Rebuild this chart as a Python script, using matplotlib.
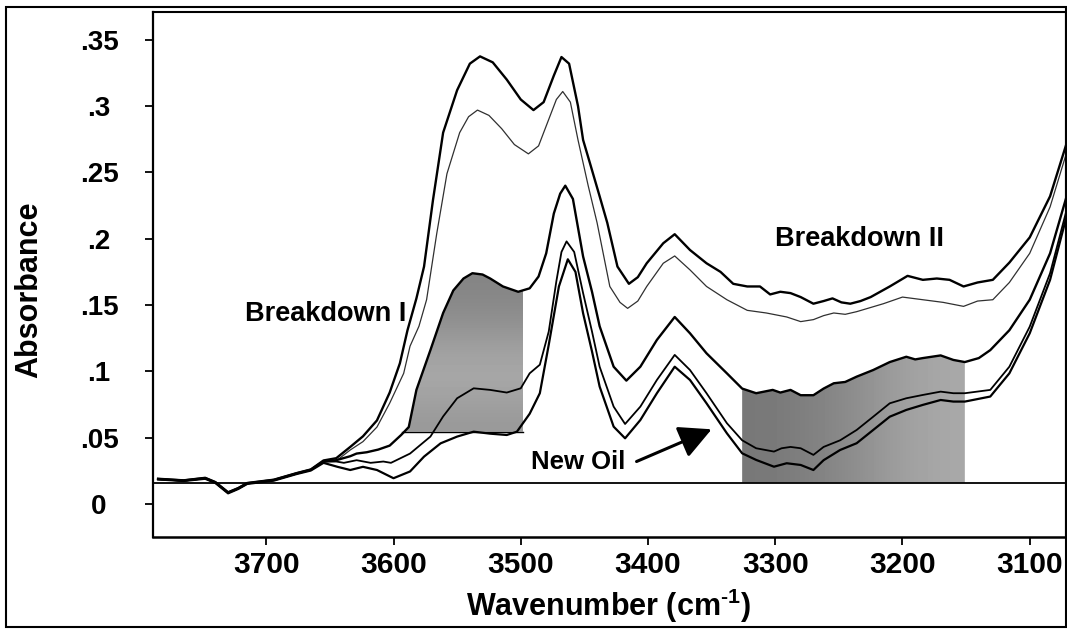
"""FTIR absorbance spectra of oil samples, 3789-3072 cm-1,
with the two breakdown bands shaded."""
import numpy as np
import matplotlib
matplotlib.use("Agg")
import matplotlib.pyplot as plt
from matplotlib.patches import Rectangle

## spectra, (wavenumber, absorbance) per curve
WN_A = [3785, 3765, 3748, 3740, 3730, 3722, 3715, 3694, 3676, 3665, 3655, 3645, 3634, 3624,
        3613, 3603, 3595, 3589, 3582, 3576, 3569, 3561, 3550, 3540, 3532, 3522, 3511, 3500,
        3490, 3482, 3474, 3468, 3462, 3455, 3451, 3445, 3438, 3432, 3424, 3415, 3408, 3401,
        3388, 3379, 3367, 3354, 3343, 3333, 3322, 3312, 3304, 3296, 3288, 3280, 3270, 3262,
        3255, 3248, 3241, 3233, 3225, 3210, 3196, 3184, 3173, 3163, 3152, 3141, 3129, 3116,
        3100, 3084, 3071]
ABS_A = [0.0190, 0.0178, 0.0197, 0.0165, 0.0088, 0.0120, 0.0158, 0.0183, 0.0233, 0.0260,
         0.0328, 0.0345, 0.043, 0.051, 0.063, 0.084, 0.106, 0.131, 0.155, 0.179, 0.229, 0.280,
         0.312, 0.332, 0.3375, 0.333, 0.320, 0.305, 0.297, 0.303, 0.323, 0.337, 0.332, 0.300,
         0.2745, 0.255, 0.232, 0.212, 0.179, 0.166, 0.171, 0.1815, 0.1966, 0.2034, 0.1915,
         0.1815, 0.175, 0.166, 0.164, 0.164, 0.158, 0.160, 0.159, 0.156, 0.151, 0.153, 0.155,
         0.152, 0.151, 0.153, 0.156, 0.164, 0.172, 0.169, 0.170, 0.169, 0.164, 0.167, 0.169,
         0.182, 0.201, 0.232, 0.272]

WN_B = [3785, 3765, 3748, 3740, 3730, 3722, 3715, 3694, 3676, 3665, 3655, 3645, 3634, 3624,
        3613, 3603, 3592, 3587, 3580, 3574, 3566, 3558, 3548, 3541, 3534, 3525, 3515, 3505,
        3494, 3486, 3478, 3472, 3467, 3461, 3455, 3447, 3440, 3430, 3422, 3416, 3408, 3401,
        3388, 3379, 3367, 3354, 3338, 3322, 3307, 3291, 3280, 3270, 3262, 3254, 3245, 3236,
        3215, 3200, 3184, 3168, 3152, 3141, 3129, 3116, 3100, 3084, 3071]
ABS_B = [0.0184, 0.0174, 0.0191, 0.0160, 0.0082, 0.0115, 0.0153, 0.0178, 0.0228, 0.0255,
         0.0320, 0.0325, 0.0407, 0.047, 0.058, 0.076, 0.0985, 0.119, 0.134, 0.154, 0.204,
         0.249, 0.280, 0.292, 0.297, 0.293, 0.283, 0.271, 0.264, 0.270, 0.290, 0.305, 0.311,
         0.303, 0.2745, 0.240, 0.212, 0.164, 0.152, 0.1475, 0.153, 0.164, 0.1815, 0.187,
         0.1765, 0.164, 0.154, 0.146, 0.144, 0.141, 0.1375, 0.139, 0.142, 0.144, 0.143, 0.145,
         0.151, 0.156, 0.154, 0.152, 0.149, 0.153, 0.154, 0.167, 0.189, 0.224, 0.265]

WN_C = [3785, 3765, 3748, 3740, 3730, 3722, 3715, 3694, 3676, 3665, 3655, 3645, 3634, 3629,
        3621, 3612, 3603, 3594, 3588, 3582, 3571, 3561, 3553, 3545, 3538, 3530, 3524, 3514,
        3502, 3493, 3486, 3480, 3474, 3469, 3465, 3459, 3451, 3444, 3438, 3427, 3417, 3406,
        3393, 3379, 3367, 3354, 3338, 3326, 3315, 3302, 3296, 3288, 3280, 3270, 3262, 3254,
        3245, 3236, 3223, 3210, 3197, 3190, 3184, 3170, 3160, 3151, 3140, 3131, 3116, 3100,
        3084, 3071]
ABS_C = [0.0188, 0.0177, 0.0195, 0.0163, 0.0086, 0.0118, 0.0156, 0.0181, 0.0231, 0.0258,
         0.0322, 0.0330, 0.036, 0.038, 0.039, 0.041, 0.044, 0.052, 0.058, 0.086, 0.116, 0.144,
         0.161, 0.170, 0.174, 0.173, 0.170, 0.164, 0.160, 0.1626, 0.1715, 0.189, 0.219, 0.234,
         0.240, 0.230, 0.1866, 0.160, 0.134, 0.1035, 0.093, 0.1035, 0.1237, 0.141, 0.1287,
         0.1136, 0.0985, 0.087, 0.0835, 0.086, 0.084, 0.086, 0.082, 0.082, 0.087, 0.091, 0.092,
         0.096, 0.101, 0.107, 0.111, 0.109, 0.110, 0.112, 0.1086, 0.107, 0.110, 0.116, 0.131,
         0.154, 0.189, 0.232]

WN_D = [3785, 3765, 3748, 3740, 3730, 3722, 3715, 3694, 3676, 3665, 3655, 3645, 3639, 3629,
        3618, 3608, 3602, 3587, 3571, 3561, 3550, 3537, 3524, 3511, 3500, 3493, 3485, 3478,
        3472, 3468, 3464, 3458, 3451, 3444, 3438, 3427, 3418, 3406, 3393, 3379, 3367, 3354,
        3338, 3326, 3315, 3301, 3295, 3288, 3280, 3270, 3262, 3249, 3236, 3223, 3210, 3197,
        3184, 3170, 3160, 3151, 3131, 3116, 3100, 3084, 3071]
ABS_D = [0.0187, 0.0175, 0.0193, 0.0161, 0.0084, 0.0116, 0.0154, 0.0179, 0.0229, 0.0256,
         0.0318, 0.0320, 0.031, 0.033, 0.031, 0.032, 0.031, 0.038, 0.0508, 0.066, 0.0797,
         0.0872, 0.086, 0.084, 0.0872, 0.0985, 0.105, 0.130, 0.168, 0.190, 0.198, 0.190, 0.159,
         0.130, 0.1035, 0.0734, 0.0603, 0.0734, 0.0935, 0.1124, 0.101, 0.0835, 0.0609, 0.048,
         0.042, 0.0395, 0.042, 0.043, 0.042, 0.037, 0.043, 0.048, 0.0558, 0.0658, 0.0759,
         0.0797, 0.0822, 0.0847, 0.0835, 0.0835, 0.086, 0.1035, 0.1337, 0.174, 0.2217]

## lowest trace = new oil
WN_E = [3785, 3765, 3748, 3740, 3730, 3722, 3715, 3694, 3676, 3665, 3655, 3644, 3634, 3624,
        3613, 3600, 3587, 3576, 3563, 3550, 3537, 3524, 3511, 3503, 3493, 3485, 3478, 3470,
        3463, 3457, 3451, 3444, 3438, 3427, 3418, 3406, 3393, 3379, 3367, 3354, 3338, 3326,
        3315, 3301, 3291, 3280, 3270, 3262, 3249, 3236, 3223, 3210, 3197, 3184, 3170, 3160,
        3151, 3131, 3116, 3100, 3084, 3071]
ABS_E = [0.0185, 0.0173, 0.0190, 0.0158, 0.0080, 0.0113, 0.0151, 0.0176, 0.0226, 0.0252,
         0.0310, 0.028, 0.0256, 0.028, 0.0256, 0.0194, 0.0245, 0.0357, 0.0457, 0.0508, 0.0545,
         0.053, 0.052, 0.0545, 0.068, 0.0835, 0.120, 0.164, 0.1845, 0.175, 0.1438, 0.115,
         0.0885, 0.0583, 0.0495, 0.0633, 0.0835, 0.1035, 0.0935, 0.0759, 0.0533, 0.0382,
         0.0332, 0.0281, 0.0307, 0.0294, 0.0256, 0.033, 0.0407, 0.0458, 0.0558, 0.0658, 0.0709,
         0.0747, 0.0784, 0.0772, 0.0772, 0.081, 0.0985, 0.1287, 0.169, 0.217]

BASELINE = 0.016
BREAK1_RANGE = (3593, 3498)
BREAK1_FLOOR = 0.0545
BREAK2_RANGE = (3326, 3151)

X_TICKS = [3700, 3600, 3500, 3400, 3300, 3200, 3100]
Y_TICKS = [0, 0.05, 0.1, 0.15, 0.2, 0.25, 0.3, 0.35]
Y_TICK_LABELS = ["0", ".05", ".1", ".15", ".2", ".25", ".3", ".35"]

plt.rcParams["font.family"] = ["Liberation Sans", "DejaVu Sans"]
plt.rcParams["font.weight"] = "bold"
plt.rcParams["axes.labelweight"] = "bold"
plt.rcParams["mathtext.fontset"] = "custom"
plt.rcParams["mathtext.rm"] = "Liberation Sans:bold"
plt.rcParams["mathtext.default"] = "rm"


def shade(ax, span, floor, grad, horizontal):
    """gray halftone-like fill between curve C and a floor level"""
    hi, lo = span
    xs = np.linspace(hi, lo, 400)
    top = np.interp(xs, WN_C[::-1], ABS_C[::-1])
    top = np.maximum(top, floor)
    patch = ax.fill_between(xs, top, floor, facecolor="none", edgecolor="none")
    img = np.array(grad).reshape(1, -1) if horizontal else np.array(grad).reshape(-1, 1)
    im = ax.imshow(img, cmap="gray", vmin=0, vmax=1, extent=[hi, lo, floor, top.max()],
                   aspect="auto", interpolation="bicubic", origin="lower", zorder=1)
    im.set_clip_path(patch.get_paths()[0], transform=ax.transData)


fig = plt.figure(figsize=(10.67, 6.29), dpi=100)
ax = fig.add_axes([0.1434, 0.1463, 0.8547, 0.8347])

shade(ax, BREAK1_RANGE, BREAK1_FLOOR, [0.60, 0.66, 0.64, 0.56, 0.52], horizontal=False)
shade(ax, BREAK2_RANGE, BASELINE, [0.47, 0.50, 0.55, 0.62, 0.66], horizontal=True)
ax.plot(BREAK1_RANGE, [BREAK1_FLOOR, BREAK1_FLOOR], color="k", lw=1.0, zorder=2)
ax.axhline(BASELINE, color="k", lw=1.3, zorder=2)

ax.plot(WN_A, ABS_A, color="k", lw=1.7, zorder=3)
ax.plot(WN_B, ABS_B, color="#303030", lw=0.9, zorder=3)
ax.plot(WN_C, ABS_C, color="k", lw=1.7, zorder=3)
ax.plot(WN_D, ABS_D, color="k", lw=1.3, zorder=3)
ax.plot(WN_E, ABS_E, color="k", lw=1.6, zorder=3)

ax.text(3653, 0.143, "Breakdown I", fontsize=19.5, fontweight="bold", ha="center", va="center")
ax.text(3234, 0.200, "Breakdown II", fontsize=19.5, fontweight="bold", ha="center", va="center")
ax.text(3455, 0.0317, "New Oil", fontsize=18.5, fontweight="bold", ha="center", va="center")
ax.annotate("", xy=(3350, 0.0563), xytext=(3409, 0.032),
            arrowprops=dict(arrowstyle="-|>,head_length=0.55,head_width=0.28",
                            mutation_scale=36, lw=2.2, color="k", shrinkA=0, shrinkB=0))

ax.set_xlim(3789, 3072.3)
ax.set_ylim(-0.0249, 0.371)
ax.set_xticks(X_TICKS)
ax.set_xticklabels([str(t) for t in X_TICKS], fontweight="bold")
ax.set_yticks(Y_TICKS)
ax.set_yticklabels(Y_TICK_LABELS, fontweight="bold")
ax.tick_params(axis="x", direction="out", length=5.8, width=1.3, labelsize=21.5, pad=4)
ax.tick_params(axis="y", direction="out", length=5.8, width=1.3, labelsize=20, pad=33)
for lab in ax.get_yticklabels():
    lab.set_ha("center")

ax.set_xlabel(r"Wavenumber (cm$^{\text{-}1}$)", fontsize=22, fontweight="bold", labelpad=6)
ax.set_ylabel("Absorbance", fontsize=22, fontweight="bold")
ax.yaxis.set_label_coords(-0.119, 0.47)

for side, lw in (("left", 1.6), ("bottom", 1.8), ("top", 1.5)):
    ax.spines[side].set_linewidth(lw)
ax.spines["right"].set_linewidth(0.8)
ax.spines["right"].set_color("#555555")

fig.patches.append(Rectangle((0.0056, 0.003), 0.9934, 0.9857, transform=fig.transFigure,
                             fill=False, lw=1.5, ec="k"))

fig.savefig("out.png", dpi=100)
